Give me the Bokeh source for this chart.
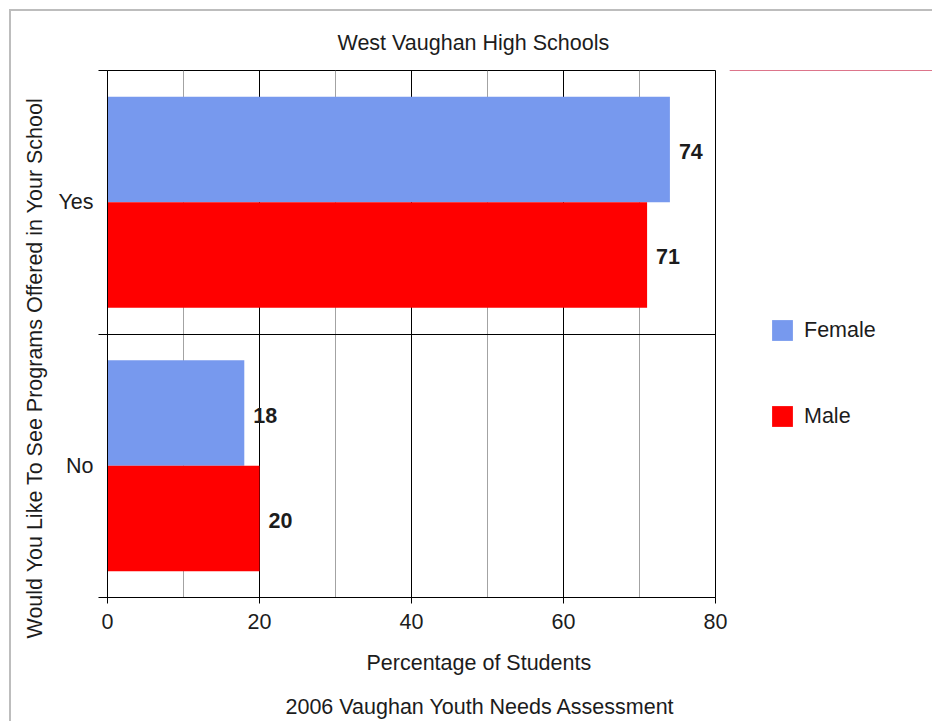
from bokeh.core.properties import value
from bokeh.embed import file_html
from bokeh.layouts import row
from bokeh.models import (ColumnDataSource, FixedTicker, Grid, LabelSet, Legend, LegendItem,
                          LinearAxis, Range1d, Title)
from bokeh.plotting import figure
from bokeh.resources import INLINE
from bokeh.transform import dodge

# answers, listed bottom to top
categories = ["No", "Yes"]
female = [18, 74]
male = [20, 71]
series_names = ["Female", "Male"]
x_ticks = [0, 20, 40, 60, 80]
x_minor_ticks = [10, 30, 50, 70]

FONT = "Liberation Sans"
SIZE = "21.5px"
INK = "#1c1c1c"
FEMALE_COLOR = "#7799ee"
MALE_COLOR = "#ff0000"
series_colors = [FEMALE_COLOR, MALE_COLOR]

# each answer owns a band of height 1; its centre is index + 0.5
band_centre = [i + 0.5 for i in range(len(categories))]

src = ColumnDataSource(dict(
    answer=categories,
    pos=band_centre,
    female=female,
    male=male,
    female_txt=[str(v) for v in female],
    male_txt=[str(v) for v in male],
))

p = figure(
    width=718, height=710,
    x_range=Range1d(x_ticks[0], x_ticks[-1]),
    y_range=Range1d(0, len(categories)),
    x_axis_type=None, y_axis_type=None,
    output_backend="svg", toolbar_location=None,
    min_border_left=96, min_border_right=14, min_border_top=59, min_border_bottom=124,
    background_fill_color="white", border_fill_color="white",
)
p.outline_line_color = "black"
p.outline_line_width = 1

# x axis with black major and grey minor grid lines
xticker = FixedTicker(ticks=x_ticks, minor_ticks=x_minor_ticks)
xaxis = LinearAxis(
    ticker=xticker,
    axis_line_color="black", major_tick_line_color="black",
    major_tick_out=6, major_tick_in=0, minor_tick_out=0, minor_tick_in=0,
    major_label_standoff=10,
    major_label_text_font=FONT, major_label_text_font_size=SIZE,
    major_label_text_color=INK,
)
p.add_layout(xaxis, "below")
p.add_layout(Grid(dimension=0, ticker=xticker, grid_line_color="black",
                  minor_grid_line_color="#a3a3a3"))

# y axis: answer names in the middle of each band, ticks on band edges
yticker = FixedTicker(ticks=band_centre,
                      minor_ticks=list(range(len(categories) + 1)))
yaxis = LinearAxis(
    ticker=yticker,
    major_label_overrides={c: name for c, name in zip(band_centre, categories)},
    axis_line_color="black",
    major_tick_out=0, major_tick_in=0,
    minor_tick_out=9, minor_tick_in=0, minor_tick_line_color="black",
    major_label_standoff=5,
    major_label_text_font=FONT, major_label_text_font_size=SIZE,
    major_label_text_color=INK,
)
p.add_layout(yaxis, "left")
p.add_layout(Grid(dimension=1, ticker=yticker, grid_line_color=None,
                  minor_grid_line_color="black"))

# bars
p.hbar(y=dodge("pos", 0.2), left=0, right="female", height=0.4,
       source=src, fill_color=FEMALE_COLOR, line_color=None)
p.hbar(y=dodge("pos", -0.2), left=0, right="male", height=0.4,
       source=src, fill_color=MALE_COLOR, line_color=None)

# value labels at the bar ends
for field, shift in (("female", 0.2), ("male", -0.2)):
    p.add_layout(LabelSet(
        x=field, y=dodge("pos", shift), text=field + "_txt", source=src,
        x_offset=9, y_offset=-2, text_baseline="middle", text_align="left",
        text_font=value(FONT), text_font_size=value(SIZE),
        text_font_style="bold", text_color=INK,
    ))


def heading(text, side, offset, standoff):
    p.add_layout(Title(
        text=text, align="left", offset=offset, standoff=standoff,
        text_font=FONT, text_font_size=SIZE, text_font_style="normal", text_color=INK,
    ), side)


heading("West Vaughan High Schools", "above", 230, 32)
heading("Percentage of Students", "below", 259, 35)
heading("2006 Vaughan Youth Needs Assessment", "below", 178, 0.5)
heading("Would You Like To See Programs Offered in Your School", "left", -41, 18)

# legend panel to the right of the chart; its flat bars sit outside the
# visible range so only the legend swatches show
key = figure(
    width=203, height=710,
    x_range=Range1d(0, 1), y_range=Range1d(-2, -1),
    x_axis_type=None, y_axis_type=None,
    output_backend="svg", toolbar_location=None, min_border=0,
    background_fill_color="white", border_fill_color="white",
)
key.outline_line_color = None
key_items = []
for name, field, color in zip(series_names, ["female", "male"], series_colors):
    r = key.hbar(y="pos", left=0, right=field, height=0, source=src,
                 fill_color=color, line_color=None)
    key_items.append(LegendItem(label=name, renderers=[r]))

key.add_layout(Legend(
    items=key_items, location=(40, 168), orientation="vertical",
    glyph_width=26, glyph_height=26, label_standoff=9, spacing=60,
    padding=0, margin=0,
    border_line_color=None, background_fill_alpha=0,
    label_text_font=FONT, label_text_font_size=SIZE, label_text_color=INK,
))

page = row(p, key)
# light grey page frame along the top and left edges
page.styles = {
    "margin-left": "9px", "margin-top": "9px",
    "border-left": "2px solid #bdbdbd", "border-top": "2px solid #bdbdbd",
}

open("out.html", "w").write(file_html(page, INLINE))
